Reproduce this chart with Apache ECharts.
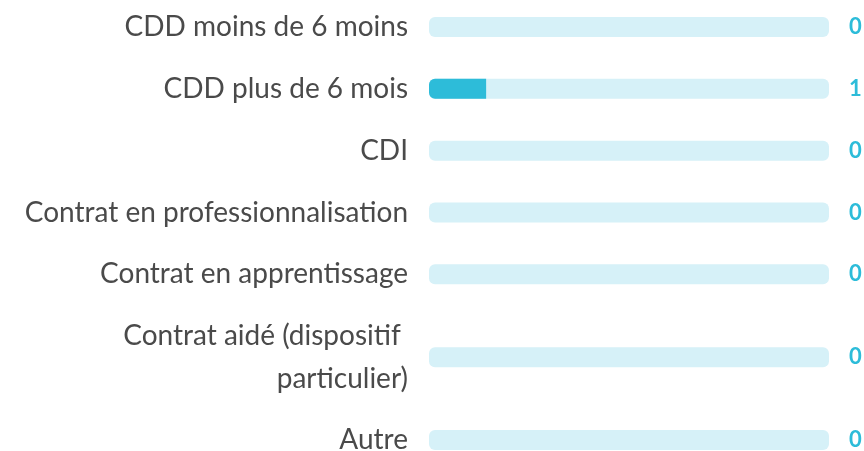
<!DOCTYPE html>
<html>
<head>
<meta charset="utf-8">
<script src="https://cdn.jsdelivr.net/npm/echarts@6/dist/echarts.min.js"></script>
<style>
  html, body { margin: 0; padding: 0; background: #ffffff; }
  #chart { width: 864px; height: 451px; }
</style>
</head>
<body>
<div id="chart"></div>
<script>
// Contract types and the number of answers for each
const categories = [
  'CDD moins de 6 moins',
  'CDD plus de 6 mois',
  'CDI',
  'Contrat en professionnalisation',
  'Contrat en apprentissage',
  'Contrat aidé (dispositif \nparticulier)',
  'Autre'
];
const values = [0, 1, 0, 0, 0, 0, 0];
const maxValue = 7;

// Row positions: a label on two lines takes extra vertical room
const EXTRA_PER_LINE = 0.68;
const lineCounts = categories.map(c => c.split('\n').length);
const rowPos = [];
lineCounts.forEach((n, i) => {
  if (i === 0) { rowPos.push(0); return; }
  const prev = lineCounts[i - 1];
  rowPos.push(rowPos[i - 1] + 1 + EXTRA_PER_LINE * (prev - 1) / 2 + EXTRA_PER_LINE * (n - 1) / 2);
});

const FILL = '#2dbcd9';
const TRACK = '#d6f1f8';
const BAR_H = 20;

const rowIndex = (v) => rowPos.findIndex(p => Math.abs(p - v) < 1e-6);

const rowAxis = (side, label) => ({
  type: 'value',
  position: side,
  inverse: true,
  min: 0,
  max: rowPos[rowPos.length - 1],
  axisLine: { show: false },
  axisTick: { show: false },
  splitLine: { show: false },
  axisLabel: Object.assign({ customValues: rowPos }, label)
});

const chart = echarts.init(document.getElementById('chart'), null, { renderer: 'canvas' });

chart.setOption({
  animation: false,
  grid: { left: 429, right: 35, top: 27, bottom: 11, containLabel: false, outerBoundsMode: 'none' },
  xAxis: { type: 'value', min: 0, max: maxValue, show: false },
  yAxis: [
    // category names on the left
    rowAxis('left', {
      margin: 21,
      fontFamily: 'Lato',
      fontSize: 28,
      lineHeight: 43,
      color: '#4a4a4a',
      align: 'right',
      formatter: (v) => { const i = rowIndex(v); return i >= 0 ? categories[i] : ''; }
    }),
    // counts on the right
    rowAxis('right', {
      margin: 20,
      fontFamily: 'Lato',
      fontSize: 22,
      fontWeight: 'bold',
      color: FILL,
      align: 'left',
      formatter: (v) => { const i = rowIndex(v); return i >= 0 ? String(values[i]) : ''; }
    })
  ],
  series: [{
    type: 'custom',
    yAxisIndex: 0,
    data: values.map((v, i) => [v, rowPos[i]]),
    renderItem: (params, api) => {
      const v = api.value(0);
      const p = api.value(1);
      const start = api.coord([0, p]);
      const end = api.coord([maxValue, p]);
      const cur = api.coord([v, p]);
      const y = start[1] - BAR_H / 2;
      const children = [{
        type: 'rect',
        shape: { x: start[0], y: y, width: end[0] - start[0], height: BAR_H, r: 6 },
        style: { fill: TRACK }
      }];
      if (v > 0) {
        children.push({
          type: 'rect',
          shape: { x: start[0], y: y, width: cur[0] - start[0], height: BAR_H, r: [6, 0, 0, 6] },
          style: { fill: FILL }
        });
      }
      return { type: 'group', children };
    }
  }]
});
</script>
</body>
</html>
